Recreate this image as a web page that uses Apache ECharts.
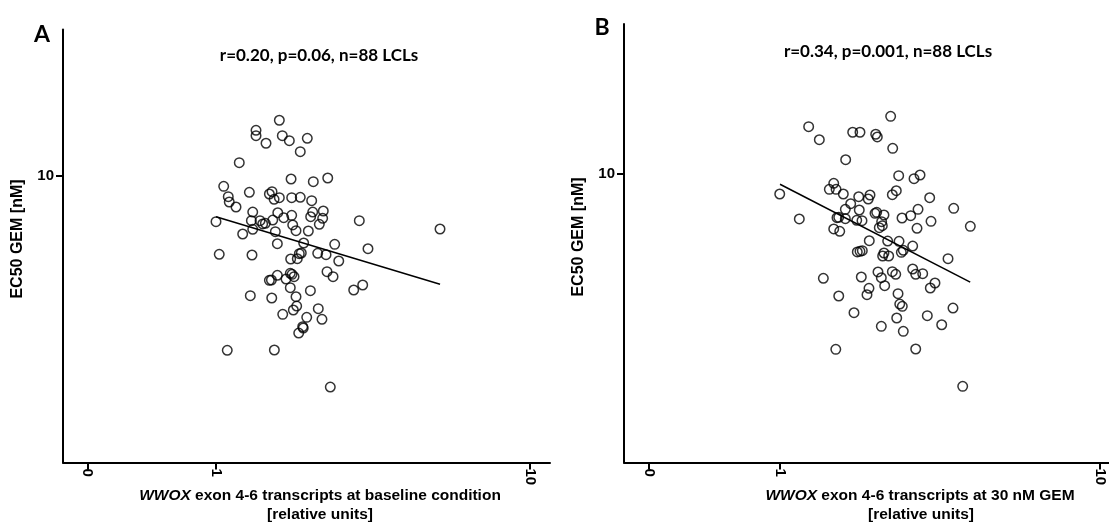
<!DOCTYPE html>
<html>
<head>
<meta charset="utf-8">
<script src="https://cdn.jsdelivr.net/npm/echarts@6/dist/echarts.min.js"></script>
<style>
html,body{margin:0;padding:0;background:#fff;}
#chart{width:1109px;height:527px;}
</style>
</head>
<body>
<div id="chart"></div>
<script>
// ---- Data (relative units / nM) ----
const xA = [1.591,1.341,1.341,1.626,1.712,1.953,1.443,1.855,1.186,1.734,2.041,2.269,1.058,1.277,1.479,1.508,1.531,1.591,1.742,1.855,2.017,1.094,1.102,1.158,1.309,1.573,1.742,1.643,2.032,2.002,2.196,2.186,2.860,5.169,1.000,1.296,1.381,1.408,1.436,1.516,1.309,1.216,1.545,1.755,1.798,1.968,2.133,1.568,1.902,2.388,3.048,1.024,1.302,1.729,1.815,1.842,1.869,2.108,2.241,2.460,1.479,1.501,1.568,1.671,1.724,1.746,1.772,2.257,2.359,2.745,2.932,1.724,1.798,1.998,1.286,1.505,1.807,1.763,2.117,1.631,1.945,2.175,1.888,1.896,1.834,1.086,1.534,2.312];
const yA = [15.65,14.44,13.83,13.83,13.28,13.54,13.01,12.16,11.13,9.762,9.552,9.841,9.205,8.772,8.653,8.814,8.292,8.400,8.400,8.427,8.200,8.468,8.113,7.794,7.486,7.445,7.291,7.153,7.486,7.209,7.547,7.118,6.983,6.531,6.926,6.983,6.983,6.801,6.838,7.020,6.517,6.274,6.392,6.746,6.444,6.427,6.783,5.803,5.836,5.775,5.574,5.330,5.300,5.132,5.144,5.356,5.385,5.373,5.313,5.050,4.324,4.335,4.502,4.370,4.575,4.538,4.452,4.634,4.452,4.000,4.164,4.075,3.790,3.978,3.821,3.751,3.517,3.406,3.442,3.290,3.212,3.161,2.978,2.947,2.831,2.464,2.470,1.834];
const xB = [2.217,1.229,1.327,1.687,1.778,1.991,2.014,2.250,1.604,2.349,2.623,2.739,0.998,1.472,1.426,1.497,1.577,1.762,1.887,1.911,2.244,2.309,2.936,1.663,1.600,1.769,1.149,1.507,1.526,1.600,1.737,1.804,1.981,2.005,2.113,2.078,2.406,2.561,2.700,3.490,2.964,3.933,1.472,1.537,2.043,2.088,2.680,1.901,2.170,2.355,2.598,1.744,1.778,1.808,2.113,2.093,2.186,2.394,2.428,3.350,1.366,1.795,2.024,2.073,2.244,2.300,2.598,2.655,2.792,2.124,1.897,1.870,2.338,3.050,2.949,1.526,2.367,2.411,1.703,2.316,2.886,3.472,2.073,2.428,3.201,1.494,2.655,3.723];
const yB = [15.77,14.52,13.09,13.89,13.89,13.67,13.38,12.22,11.16,9.828,9.595,9.882,8.493,9.250,8.817,8.817,8.493,8.312,8.161,8.425,8.445,8.719,8.246,7.861,7.518,7.476,6.961,7.032,7.054,6.976,6.888,6.866,7.282,7.340,7.184,6.812,7.015,7.145,7.518,7.578,6.833,6.566,6.427,6.310,6.494,6.598,6.463,5.854,5.839,5.826,5.611,5.351,5.380,5.406,5.308,5.182,5.182,5.337,5.424,5.072,4.339,4.384,4.563,4.359,4.573,4.480,4.673,4.480,4.501,4.090,4.007,3.807,3.838,4.179,4.016,3.768,3.535,3.471,3.298,3.162,3.221,3.424,2.960,2.844,2.997,2.464,2.470,1.835];
// regression line end points [x, y]
const fitA = [[1.0, 7.21], [5.17, 4.19]];
const fitB = [[1.0, 9.18], [3.93, 4.21]];
// tick values and labels
const xTickValues = [0.39, 1, 10];
const xTickLabels = ['0', '1', '10'];
const yTickValues = [10];
const yTickLabels = ['10'];
const titleA = 'r=0.20, p=0.06, n=88 LCLs';
const titleB = 'r=0.34, p=0.001, n=88 LCLs';
const xNameA = 'exon 4-6 transcripts at baseline condition';
const xNameB = 'exon 4-6 transcripts at 30 nM GEM';
const xNameItalic = 'WWOX';
const xName2 = '[relative units]';
const yName = 'EC50 GEM [nM]';

// ---- helpers ----
const L = Math.log10;
const toPts = (xs, ys) => xs.map((x, i) => [L(x), L(ys[i])]);
const fmtFrom = (vals, labels) => v => {
  for (let i = 0; i < vals.length; i++) if (Math.abs(L(vals[i]) - v) < 1e-6) return labels[i];
  return '';
};
const ARIAL = '"Liberation Sans", Arial, sans-serif';
const CAL = 'Lato, "Open Sans", sans-serif';

function xAxisCfg(idx, min, max) {
  return {
    gridIndex: idx, type: 'value', min: min, max: max,
    axisLine: { show: true, onZero: false, lineStyle: { color: '#000', width: 2 } },
    axisTick: { show: true, length: 7, lineStyle: { color: '#000', width: 2 }, customValues: xTickValues.map(L) },
    axisLabel: { show: true, rotate: -90, margin: 6, color: '#000', fontFamily: ARIAL, fontWeight: 'bold', fontSize: 15,
      customValues: xTickValues.map(L), formatter: fmtFrom(xTickValues, xTickLabels) },
    splitLine: { show: false }
  };
}
function yAxisCfg(idx, min, max) {
  return {
    gridIndex: idx, type: 'value', min: min, max: max,
    axisLine: { show: true, onZero: false, lineStyle: { color: '#000', width: 2 } },
    axisTick: { show: true, length: 7, lineStyle: { color: '#000', width: 2 }, customValues: yTickValues.map(L) },
    axisLabel: { show: true, margin: 9, color: '#000', fontFamily: ARIAL, fontWeight: 'bold', fontSize: 15,
      customValues: yTickValues.map(L), formatter: fmtFrom(yTickValues, yTickLabels) },
    splitLine: { show: false }
  };
}
const scatterStyle = {
  type: 'scatter', symbol: 'circle', symbolSize: 9.5,
  itemStyle: { color: 'rgba(0,0,0,0)', borderColor: '#000', borderWidth: 1.5 },
  silent: true
};
const lineStyle = { type: 'line', symbol: 'none', lineStyle: { color: '#000', width: 1.5 }, silent: true };

function txt(x, y, text, size, opts) {
  return { type: 'text', x: x, y: y, silent: true, rotation: (opts && opts.rotation) || 0,
    style: Object.assign({ text: text, fill: '#000', fontFamily: ARIAL, fontWeight: 'bold', fontSize: size,
      align: 'center', verticalAlign: 'middle' }, (opts && opts.style) || {}) };
}
function xNameText(x, y, rest) {
  return { type: 'text', x: x, y: y, silent: true,
    style: { text: '{i|' + xNameItalic + '} ' + rest, fill: '#000', fontFamily: ARIAL, fontWeight: 'bold', fontSize: 15.5,
      align: 'center', verticalAlign: 'middle',
      rich: { i: { fontStyle: 'italic', fontWeight: 'bold', fontFamily: ARIAL, fontSize: 15.5, fill: '#000' } } } };
}

const chart = echarts.init(document.getElementById('chart'), null, { renderer: 'canvas' });
chart.setOption({
  animation: false,
  backgroundColor: '#fff',
  grid: [
    { left: 63, top: 29.5, width: 487, height: 433 },
    { left: 624, top: 24, width: 485, height: 438.5 }
  ],
  xAxis: [ xAxisCfg(0, -0.4873, 1.0637), xAxisCfg(1, -0.4875, 1.0281) ],
  yAxis: [ yAxisCfg(0, 0, 1.5113), yAxisCfg(1, 0, 1.5173) ],
  series: [
    Object.assign({}, scatterStyle, { xAxisIndex: 0, yAxisIndex: 0, data: toPts(xA, yA) }),
    Object.assign({}, lineStyle, { xAxisIndex: 0, yAxisIndex: 0, data: fitA.map(p => [L(p[0]), L(p[1])]) }),
    Object.assign({}, scatterStyle, { xAxisIndex: 1, yAxisIndex: 1, data: toPts(xB, yB) }),
    Object.assign({}, lineStyle, { xAxisIndex: 1, yAxisIndex: 1, data: fitB.map(p => [L(p[0]), L(p[1])]) })
  ],
  graphic: [
    txt(42, 35, 'A', 23, { style: { fontFamily: CAL } }),
    txt(602, 28, 'B', 23, { style: { fontFamily: CAL } }),
    txt(319, 56, titleA, 17, { style: { fontFamily: CAL } }),
    txt(888, 52, titleB, 17, { style: { fontFamily: CAL } }),
    txt(18, 239, yName, 16, { rotation: Math.PI / 2 }),
    txt(579, 237, yName, 16, { rotation: Math.PI / 2 }),
    xNameText(320, 496, xNameA),
    txt(320, 515, xName2, 15.5),
    xNameText(920, 496, xNameB),
    txt(921, 515, xName2, 15.5)
  ]
});
</script>
</body>
</html>
